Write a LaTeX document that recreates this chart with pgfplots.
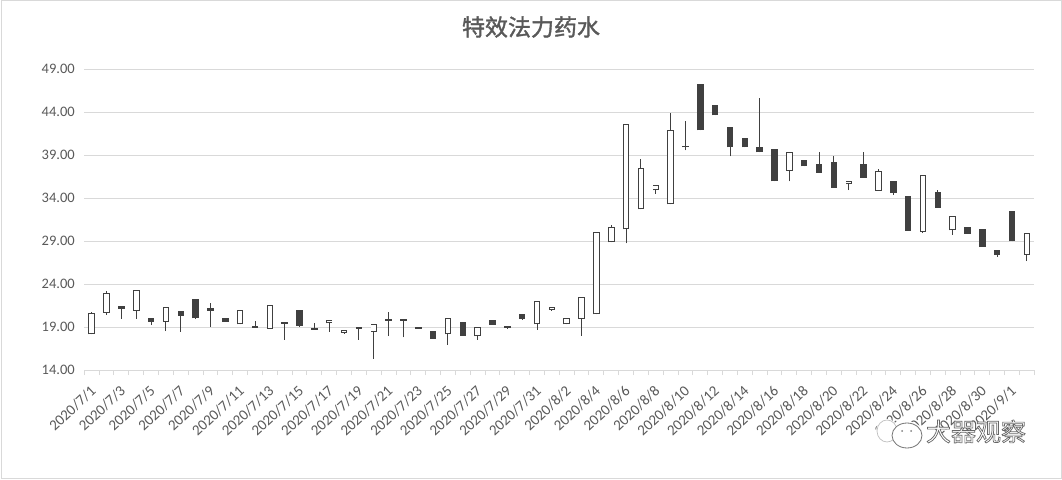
\documentclass[border=0pt]{standalone}
\usepackage{pgfplots}
\usepackage{pgfplotstable}
\usepackage{fontspec}
\pgfplotsset{compat=1.18}
\setmainfont{Carlito}
\newfontfamily\cjk{Noto Sans CJK SC}
\newfontfamily\cjkbold{Noto Sans CJK SC}[FakeBold=1.5]
\definecolor{dk}{HTML}{404040}
\definecolor{gr}{HTML}{D9D9D9}
\definecolor{txt}{HTML}{595959}
\pgfplotstableread{
x low bot top high
0 18.15 18.15 20.59 20.74
1 20.40 20.67 22.91 23.19
3 19.97 20.90 23.26 23.26
5 18.53 19.62 21.29 21.29
10 19.31 19.31 20.94 20.94
12 18.80 18.80 21.52 21.52
16 18.42 19.43 19.78 19.78
17 18.20 18.36 18.63 18.63
19 15.30 18.43 19.40 19.40
24 16.95 18.15 20.00 20.00
26 17.53 17.92 18.96 18.96
30 18.69 19.31 21.98 21.98
31 20.90 21.00 21.29 21.29
32 19.31 19.31 20.00 20.00
33 18.00 19.97 22.45 22.45
34 20.47 20.47 30.05 30.05
35 28.84 28.84 30.63 30.90
36 28.73 30.36 42.60 42.60
37 32.68 32.68 37.49 38.57
38 34.50 34.90 35.51 35.51
39 33.26 33.26 41.87 43.92
47 35.94 37.14 39.35 39.35
51 34.93 35.59 35.94 35.94
53 34.85 34.85 37.10 37.33
56 29.93 30.09 36.64 36.64
58 29.74 30.24 31.87 31.87
63 26.67 27.41 29.89 29.89
}\upcandles
\pgfplotstableread{
x low bot top high
2 19.97 21.13 21.40 21.40
4 19.23 19.62 20.00 20.00
6 18.42 20.32 20.82 20.82
7 19.93 20.00 22.20 22.20
8 19.04 20.90 21.17 21.75
9 19.62 19.62 20.00 20.00
11 18.92 18.92 19.12 19.70
13 17.53 19.39 19.58 19.58
14 19.04 19.15 20.98 20.98
15 18.69 18.69 18.88 19.43
18 17.53 18.80 19.00 19.00
20 17.95 19.70 19.90 20.70
21 17.80 19.70 19.90 19.90
22 18.80 18.80 19.00 19.00
23 17.64 17.64 18.53 18.53
25 17.98 17.98 19.57 19.57
27 19.27 19.27 19.78 19.78
28 18.80 18.92 19.10 19.10
29 19.85 19.97 20.50 20.50
40 39.54 39.90 40.09 42.95
41 41.87 41.87 47.26 47.26
42 43.61 43.61 44.85 44.85
43 38.84 39.90 42.26 42.26
44 39.90 39.90 41.00 41.00
45 39.31 39.31 39.93 45.63
46 35.94 35.94 39.70 39.70
48 37.68 37.68 38.42 38.42
49 36.95 36.95 37.95 39.35
50 35.20 35.20 38.19 38.88
52 36.36 36.36 37.95 39.35
54 34.39 34.62 35.98 35.98
55 30.20 30.20 34.23 34.23
57 32.88 32.88 34.70 34.93
59 29.85 29.85 30.59 30.59
60 28.34 28.34 30.40 30.40
61 27.18 27.41 27.91 27.91
62 28.96 28.96 32.49 32.49
}\downcandles
\begin{document}
\begin{tikzpicture}[x=1pt,y=1pt]
\path[use as bounding box] (0,0) rectangle (1062,479);
\draw[gr,line width=1pt] (1,1) rectangle (1061,478);
\begin{axis}[
  at={(84.3pt,109pt)}, anchor=south west,
  scale only axis, width=950pt, height=301pt,
  xmin=-0.5, xmax=63.5, ymin=14, ymax=49,
  axis y line=left, axis x line=bottom,
  axis line style={draw=gr,line width=1pt,-},
  y axis line style={draw=none},
  ytick={14,19,24,29,34,39,44,49},
  ymajorgrids, grid style={gr,line width=1pt},
  y tick style={draw=none},
  yticklabel style={font=\fontsize{14.5}{16}\selectfont,text=txt,xshift=-6pt},
  /pgf/number format/.cd, fixed, fixed zerofill, precision=2, assume math mode=true,
  /pgfplots/.cd,
  xtick={0,2,...,62},
  xticklabels={2020/7/1,2020/7/3,2020/7/5,2020/7/7,2020/7/9,2020/7/11,2020/7/13,2020/7/15,2020/7/17,2020/7/19,2020/7/21,2020/7/23,2020/7/25,2020/7/27,2020/7/29,2020/7/31,2020/8/2,2020/8/4,2020/8/6,2020/8/8,2020/8/10,2020/8/12,2020/8/14,2020/8/16,2020/8/18,2020/8/20,2020/8/22,2020/8/24,2020/8/26,2020/8/28,2020/8/30,2020/9/1},
  minor xtick={-0.5,0.5,...,63.5},
  major tick length=0pt, minor tick length=5pt,
  tick align=outside,
  minor x tick style={gr,line width=1pt},
  xticklabel style={font=\fontsize{15}{17}\selectfont,text=txt,rotate=43,anchor=north east,xshift=-8.3pt,yshift=-5.9pt},
  clip=false,
]
% wicks
\addplot[draw=none,mark=none,forget plot,error bars/.cd,y dir=plus,y explicit,error mark=none,
  error bar style={draw=dk,solid,line width=1pt}]
  table[x=x,y=low,y error plus expr=\thisrow{high}-\thisrow{low}] {\upcandles};
\addplot[draw=none,mark=none,forget plot,error bars/.cd,y dir=plus,y explicit,error mark=none,
  error bar style={draw=dk,solid,line width=1pt}]
  table[x=x,y=low,y error plus expr=\thisrow{high}-\thisrow{low}] {\downcandles};
% bodies
\addplot[draw=none,mark=none,forget plot,error bars/.cd,y dir=plus,y explicit,error mark=none,
  error bar style={draw=dk,solid,line width=6.5pt}]
  table[x=x,y=bot,y error plus expr=\thisrow{top}-\thisrow{bot}] {\downcandles};
\addplot[draw=none,mark=none,forget plot,error bars/.cd,y dir=plus,y explicit,error mark=none,
  error bar style={draw=dk,solid,line width=6.5pt}]
  table[x=x,y=bot,y error plus expr=\thisrow{top}-\thisrow{bot}] {\upcandles};
\addplot[draw=none,mark=none,forget plot,error bars/.cd,y dir=plus,y explicit,error mark=none,
  error bar style={draw=white,solid,line width=4.6pt}]
  table[x=x,y expr=\thisrow{bot}+0.12,y error plus expr=\thisrow{top}-\thisrow{bot}-0.24] {\upcandles};
\end{axis}
\node[text=txt,font=\cjkbold\fontsize{23}{26}\selectfont] at (531,452) {特效法力药水};
% watermark
\fill[white] (887,48) ellipse (11 and 12);
\fill[white] (907,43.5) ellipse (17 and 14);
\draw[gray!50,line width=0.7pt] (887,48) ellipse (10 and 11);
\draw[gray!90!black,line width=0.8pt,fill=white] (907,43.5) ellipse (15 and 12.5);
\fill[gray] (902,48) circle (1);
\fill[gray] (911,48) circle (1);
\node[font=\cjk\fontsize{25}{28}\selectfont] at (976,47.5) {\special{pdf:code q 2 Tr 0.7 w 0.4 G 1 g}大器观察\special{pdf:code Q}};
\end{tikzpicture}
\end{document}
